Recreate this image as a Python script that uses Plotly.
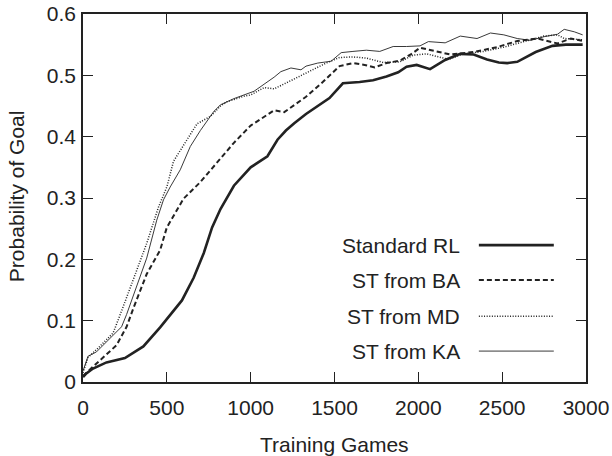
import plotly.graph_objects as go

# ---- data ----
rl_x = [0, 20, 60, 140, 250, 360, 460, 530, 590, 660, 720, 770, 820, 900, 1000, 1100, 1160, 1210, 1260, 1330,
        1410, 1470, 1550, 1650, 1730, 1810, 1880, 1930, 1990, 2070, 2160, 2250, 2330, 2410, 2480, 2530, 2590,
        2700, 2800, 2880, 2980]
rl_y = [0.008, 0.014, 0.022, 0.032, 0.039, 0.058, 0.089, 0.112, 0.133, 0.170, 0.210, 0.252, 0.282, 0.320, 0.350,
        0.368, 0.395, 0.410, 0.422, 0.437, 0.452, 0.463, 0.487, 0.489, 0.492, 0.498, 0.505, 0.514, 0.517, 0.510,
        0.525, 0.535, 0.534, 0.526, 0.521, 0.520, 0.522, 0.538, 0.548, 0.550, 0.550]

ba_x = [0, 20, 80, 200, 260, 300, 380, 460, 500, 600, 700, 800, 900, 1000, 1100, 1140, 1200, 1260, 1330, 1430,
        1530, 1610, 1680, 1740, 1810, 1890, 1960, 2010, 2090, 2190, 2330, 2470, 2590, 2710, 2830, 2910, 2980]
ba_y = [0.010, 0.015, 0.029, 0.060, 0.090, 0.120, 0.176, 0.215, 0.252, 0.299, 0.326, 0.358, 0.390, 0.418, 0.436,
        0.443, 0.440, 0.452, 0.465, 0.489, 0.515, 0.520, 0.517, 0.513, 0.520, 0.524, 0.535, 0.545, 0.540, 0.534,
        0.538, 0.546, 0.556, 0.560, 0.552, 0.560, 0.556]

md_x = [0, 30, 100, 180, 240, 300, 380, 450, 500, 540, 600, 640, 680, 740, 760, 820, 860, 960, 1000, 1080, 1140,
        1200, 1290, 1370, 1450, 1530, 1610, 1690, 1790, 1890, 1970, 2050, 2130, 2180, 2270, 2390, 2510, 2630,
        2750, 2830, 2870, 2980]
md_y = [0.015, 0.040, 0.058, 0.080, 0.123, 0.166, 0.226, 0.285, 0.318, 0.360, 0.386, 0.405, 0.421, 0.430, 0.433,
        0.450, 0.457, 0.466, 0.468, 0.480, 0.478, 0.486, 0.498, 0.509, 0.520, 0.529, 0.530, 0.528, 0.521, 0.522,
        0.533, 0.535, 0.530, 0.526, 0.535, 0.539, 0.546, 0.555, 0.564, 0.566, 0.560, 0.558]

ka_x = [0, 30, 80, 160, 230, 260, 320, 380, 440, 480, 520, 580, 640, 700, 780, 820, 900, 1020, 1140, 1180, 1240,
        1300, 1330, 1400, 1480, 1540, 1610, 1690, 1770, 1850, 1930, 2010, 2060, 2130, 2160, 2250, 2350, 2430,
        2510, 2590, 2670, 2750, 2830, 2870, 2930, 2980]
ka_y = [0.018, 0.042, 0.049, 0.071, 0.090, 0.110, 0.155, 0.202, 0.264, 0.297, 0.318, 0.346, 0.384, 0.410, 0.441,
        0.452, 0.462, 0.474, 0.497, 0.506, 0.512, 0.509, 0.515, 0.520, 0.523, 0.537, 0.539, 0.541, 0.539, 0.547,
        0.547, 0.548, 0.555, 0.553, 0.553, 0.564, 0.560, 0.569, 0.566, 0.560, 0.557, 0.563, 0.567, 0.575, 0.571,
        0.566]

series_names = ["Standard RL", "ST from BA", "ST from MD", "ST from KA"]
x_ticks = [0, 500, 1000, 1500, 2000, 2500, 3000]
y_ticks = [0, 0.1, 0.2, 0.3, 0.4, 0.5, 0.6]
y_tick_text = ["0", "0.1", "0.2", "0.3", "0.4", "0.5", "0.6"]
x_title = "Training Games"
y_title = "Probability of Goal"

INK = "#222222"
FONT = "Liberation Sans, Arial, Helvetica, sans-serif"
FS = 21
styles = [
    dict(color=INK, width=2.6, dash="solid"),
    dict(color=INK, width=2.0, dash="5px,3px"),
    dict(color=INK, width=1.5, dash="1px,1.6px"),
    dict(color=INK, width=0.9, dash="solid"),
]

fig = go.Figure()
for name, xs, ys, st in zip(series_names, [rl_x, ba_x, md_x, ka_x], [rl_y, ba_y, md_y, ka_y], styles):
    fig.add_trace(go.Scatter(x=xs, y=ys, mode="lines", name=name, line=st, showlegend=False))

# manual legend: text on the left, line sample on the right (inside plot, lower right)
leg_y = [0.372, 0.277, 0.179, 0.084]
for name, st, ly in zip(series_names, styles, leg_y):
    fig.add_annotation(x=0.7535, y=ly, xref="paper", yref="paper", text=name, showarrow=False,
                       xanchor="right", yanchor="middle", font=dict(family=FONT, size=FS, color=INK))
    fig.add_shape(type="line", xref="paper", yref="paper", x0=0.787, x1=0.936, y0=ly, y1=ly,
                  line=dict(color=st["color"], width=st["width"], dash=st["dash"]))

# axis titles
fig.add_annotation(x=0.5, y=-0.171, xref="paper", yref="paper", text=x_title, showarrow=False,
                   xanchor="center", yanchor="middle", font=dict(family=FONT, size=FS, color=INK))
fig.add_annotation(x=-0.1332, y=0.505, xref="paper", yref="paper", text=y_title, showarrow=False,
                   textangle=-90, xanchor="center", yanchor="middle", font=dict(family=FONT, size=FS, color=INK))

axis_common = dict(showgrid=False, zeroline=False, showline=True, linecolor=INK, linewidth=1.5,
                   mirror="ticks", ticks="inside", ticklen=10, tickwidth=1.3, tickcolor=INK,
                   automargin=False, tickfont=dict(family=FONT, size=FS, color=INK))

fig.update_xaxes(range=[0, 3000], tickvals=x_ticks, ticklabelstandoff=6, **axis_common)
fig.update_yaxes(range=[0, 0.6], tickvals=y_ticks, ticktext=y_tick_text, ticklabelstandoff=1, **axis_common)

fig.update_layout(width=612, height=456, margin=dict(l=83, r=26, t=14, b=74, pad=0),
                  plot_bgcolor="white", paper_bgcolor="white", showlegend=False)

# remove the default 8px page margin so the 612x456 figure fills the window exactly; hide the modebar
fig.write_html("out.html", config={"displayModeBar": False},
               post_script="document.body.style.margin='0px';")
